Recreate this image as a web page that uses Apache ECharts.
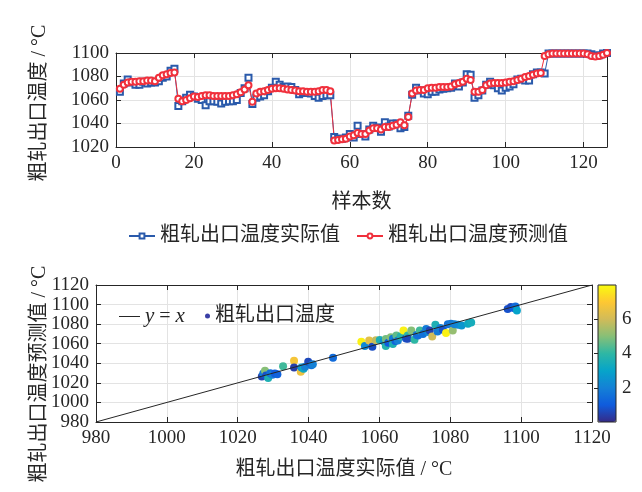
<!DOCTYPE html>
<html>
<head>
<meta charset="utf-8">
<script src="https://cdn.jsdelivr.net/npm/echarts@6/dist/echarts.min.js"></script>
<style>
html, body { margin: 0; padding: 0; background: #fff; }
#main { width: 642px; height: 492px; }
</style>
</head>
<body>
<div id="main"></div>
<script>
// 上图：样本 1..126 的实际值 / 预测值
var actualVals = [
  1067, 1074, 1077.5, 1075, 1073, 1073, 1075.5, 1074, 1075, 1075,
  1076, 1079, 1080, 1085, 1086.5, 1055, 1059, 1062, 1064.5, 1063,
  1061, 1060, 1055.5, 1059, 1059, 1058.5, 1057, 1058.5, 1059, 1059,
  1060, 1066, 1070, 1079, 1056.5, 1062, 1063, 1064, 1067.5, 1070.5,
  1075.5, 1073, 1071, 1071.5, 1071, 1068.5, 1065, 1066, 1066, 1065.5,
  1063.5, 1062, 1063.5, 1064, 1064, 1028.5, 1027, 1027, 1028, 1031,
  1028, 1038, 1031, 1029, 1035, 1038, 1036.5, 1033, 1041, 1037.5,
  1040, 1040, 1036, 1037, 1046.5, 1064.5, 1070.5, 1068, 1065.5, 1065,
  1067, 1067, 1069, 1069.5, 1070, 1070.5, 1074, 1071.5, 1075, 1082,
  1081.5, 1062, 1064, 1068, 1073, 1075.5, 1072.5, 1070, 1068, 1070.5,
  1071.5, 1073.5, 1077.5, 1078, 1076.5, 1076.5, 1082, 1083.5, 1083.5, 1082.5,
  1099.5, 1099.5, 1099.5, 1099.5, 1099.5, 1099.5, 1099.5, 1099.5, 1099.5, 1099.5,
  1099.5, 1099, 1097.5, 1098, 1099.5, 1100
]
var predVals = [
  1069.5, 1073, 1075, 1075.5, 1075.5, 1076, 1076, 1076.5, 1076.5, 1076,
  1079, 1081, 1082, 1083, 1083.5, 1061, 1059, 1060, 1061.5, 1063,
  1062.5, 1063.5, 1064, 1064, 1063.5, 1063.5, 1063.5, 1063.5, 1063.5, 1064,
  1065, 1066.5, 1069, 1072.5, 1058.5, 1065.5, 1067, 1067.5, 1068.5, 1069.5,
  1070, 1070, 1069.5, 1069, 1068.5, 1068, 1067.5, 1067.5, 1067, 1067,
  1067, 1067.5, 1068.5, 1068.5, 1067.5, 1025.5, 1026, 1026.5, 1027, 1029,
  1030, 1032, 1031, 1031, 1034, 1036, 1036, 1035, 1037, 1037,
  1038, 1039, 1041, 1038.5, 1045.5, 1065.5, 1068, 1068.5, 1068.5, 1070,
  1070.5, 1070.5, 1071, 1071, 1071, 1071.5, 1073.5, 1074.5, 1075.5, 1078,
  1077, 1067, 1067, 1068.5, 1072.5, 1074, 1074.5, 1074.5, 1074.5, 1075,
  1075.5, 1076, 1077, 1078, 1079.5, 1080.5, 1081.5, 1082.5, 1083, 1097.5,
  1099, 1099.5, 1099.5, 1099.5, 1099.5, 1099.5, 1099.5, 1099.5, 1099.5, 1099.5,
  1099, 1097.5, 1097, 1097.5, 1098.5, 1100
]

// 下图：散点（实际值, 预测值, 误差颜色）
var scatActual = [
  1026.8, 1027.2, 1027.7, 1028.0, 1028.6, 1029.2, 1029.8, 1030.5, 1031.2, 1032.8,
  1035.9, 1035.9, 1037.8, 1038.0, 1038.6, 1039.0, 1039.9, 1040.8, 1041.2, 1046.9,
  1054.9, 1055.9, 1057.1, 1058.0, 1059.0, 1060.1, 1061.2, 1061.8, 1061.8, 1062.5,
  1063.2, 1063.8, 1063.8, 1064.5, 1064.8, 1065.2, 1066.0, 1066.8, 1067.5, 1068.0,
  1068.0, 1069.0, 1069.9, 1070.5, 1070.9, 1071.4, 1072.3, 1073.2, 1073.8, 1074.2,
  1074.9, 1075.8, 1076.4, 1077.2, 1077.9, 1078.8, 1079.3, 1080.2, 1080.7, 1081.2,
  1082.2, 1083.2, 1085.0, 1085.9, 1096.2, 1097.1, 1097.8, 1098.4, 1098.8
]
var scatPred = [
  1026.5, 1029.5, 1032.5, 1027.5, 1025.0, 1029.8, 1028.3, 1029.5, 1028.8, 1037.0,
  1042.6, 1035.8, 1031.3, 1035.8, 1034.5, 1036.5, 1041.5, 1038.0, 1039.0, 1045.6,
  1062.0, 1057.6, 1063.2, 1056.9, 1063.6, 1063.8, 1062.5, 1064.8, 1057.6, 1061.0,
  1066.7, 1065.0, 1059.7, 1062.8, 1068.4, 1063.3, 1067.5, 1073.6, 1065.3, 1068.4,
  1065.0, 1073.6, 1064.0, 1069.0, 1068.4, 1073.6, 1070.0, 1075.0, 1072.0, 1073.6,
  1067.4, 1079.4, 1072.4, 1076.0, 1074.2, 1071.0, 1079.8, 1080.5, 1073.6, 1080.0,
  1079.4, 1078.5, 1080.5, 1081.6, 1095.6, 1097.5, 1096.5, 1098.1, 1094.0
]
var scatErr = [
  0.5, 1.8, 5.0, 0.8, 3.6, 1.5, 2.0, 1.0, 1.2, 4.2,
  6.8, 0.4, 6.6, 2.6, 3.2, 2.0, 0.6, 1.6, 2.0, 1.4,
  7.8, 2.2, 6.4, 0.7, 5.8, 3.6, 2.5, 4.8, 3.8, 1.0,
  5.0, 1.8, 3.6, 1.2, 4.6, 2.0, 3.8, 7.8, 0.8, 4.0,
  0.6, 5.0, 4.0, 1.8, 1.5, 4.2, 1.6, 1.8, 2.2, 0.5,
  6.0, 3.6, 1.8, 2.0, 0.8, 7.8, 1.6, 1.8, 5.2, 2.0,
  2.2, 2.6, 3.2, 3.4, 0.8, 0.6, 1.0, 1.4, 3.0
]

// 刻度
var topXTicks = [0, 20, 40, 60, 80, 100, 120]
var topYTicks = [1020, 1040, 1060, 1080, 1100]
var botTicks = [980, 1000, 1020, 1040, 1060, 1080, 1100, 1120]
var cbTicks = [2, 4, 6]

var parula = ['#352A87', '#0F5CDD', '#1481D6', '#06A4CA', '#2EB7A4', '#87BF77', '#D1BB59', '#FEC832', '#F9FB0E']

var txt = '#262626'
var numFont = 'Liberation Serif'
var cjkFont = "'Liberation Serif', 'Noto Sans CJK SC'"

function plain(v) { return String(v) }

function boxAxis(grid, pos, min, max, interval, showLabel, showSplit) {
  return {
    type: 'value', gridIndex: grid, position: pos,
    min: min, max: max, interval: interval,
    axisLine: { show: true, onZero: false, lineStyle: { color: txt, width: 1 } },
    axisTick: { show: true, inside: true, length: 5, lineStyle: { color: txt } },
    axisLabel: { show: showLabel, formatter: plain, color: txt, fontFamily: numFont, fontSize: 19, margin: 7 },
    splitLine: { show: showSplit, lineStyle: { color: '#e3e3e3', width: 1 } }
  }
}

var myChart = echarts.init(document.getElementById('main'))

var option = {
  animation: false,
  backgroundColor: '#fff',
  grid: [
    { left: 116, top: 53, width: 491, height: 94 },
    { left: 96, top: 285, width: 496, height: 137 },
    { left: 598, top: 285, width: 18, height: 137 }
  ],
  xAxis: [
    Object.assign(boxAxis(0, 'bottom', topXTicks[0], 126, topXTicks[1] - topXTicks[0], true, true), {
      name: '样本数', nameLocation: 'middle', nameGap: 46,
      nameTextStyle: { fontFamily: cjkFont, fontSize: 20, color: txt }
    }),
    boxAxis(0, 'top', topXTicks[0], 126, topXTicks[1] - topXTicks[0], false, false),
    Object.assign(boxAxis(1, 'bottom', botTicks[0], botTicks[botTicks.length - 1], botTicks[1] - botTicks[0], true, true), {
      name: '粗轧出口温度实际值 / °C', nameLocation: 'middle', nameGap: 38,
      nameTextStyle: { fontFamily: cjkFont, fontSize: 20, color: txt }
    }),
    boxAxis(1, 'top', botTicks[0], botTicks[botTicks.length - 1], botTicks[1] - botTicks[0], false, false),
    { type: 'value', gridIndex: 2, min: 0, max: 1, show: false }
  ],
  yAxis: [
    boxAxis(0, 'left', topYTicks[0], topYTicks[topYTicks.length - 1], topYTicks[1] - topYTicks[0], true, true),
    boxAxis(0, 'right', topYTicks[0], topYTicks[topYTicks.length - 1], topYTicks[1] - topYTicks[0], false, false),
    boxAxis(1, 'left', botTicks[0], botTicks[botTicks.length - 1], botTicks[1] - botTicks[0], true, true),
    boxAxis(1, 'right', botTicks[0], botTicks[botTicks.length - 1], botTicks[1] - botTicks[0], false, false),
    {
      type: 'value', gridIndex: 2, position: 'right', min: 0, max: 8,
      axisLine: { show: false },
      axisTick: { show: true, inside: true, length: 4, customValues: cbTicks, lineStyle: { color: txt } },
      axisLabel: { show: true, customValues: cbTicks, formatter: plain, color: txt, fontFamily: numFont, fontSize: 19, margin: 6 },
      splitLine: { show: false }
    }
  ],
  legend: [
    {
      data: ['粗轧出口温度实际值', '粗轧出口温度预测值'],
      left: 128, top: 226, itemWidth: 26, itemHeight: 6, itemGap: 16, padding: 0,
      textStyle: { fontFamily: cjkFont, fontSize: 20, color: txt }
    },
    {
      data: [{ name: 'y=x', icon: 'rect' }], left: 119, top: 306, itemWidth: 21, itemHeight: 1, padding: 0,
      formatter: function () { return '{i|y} = {i|x}' },
      textStyle: {
        fontFamily: numFont, fontSize: 20, color: txt,
        rich: { i: { fontStyle: 'italic', fontFamily: numFont, fontSize: 21, color: txt } }
      }
    },
    {
      data: [{ name: '粗轧出口温度', icon: 'circle' }], left: 205, top: 306,
      itemWidth: 5, itemHeight: 5, padding: 0,
      textStyle: { fontFamily: cjkFont, fontSize: 20, color: txt }
    }
  ],
  visualMap: {
    type: 'continuous', seriesIndex: 3, dimension: 2,
    min: 0, max: 8, left: 598, top: 285, itemWidth: 18, itemHeight: 137,
    padding: 0, calculable: false, hoverLink: false,
    inRange: { color: parula }
  },
  graphic: [
    {
      type: 'text', x: 40, y: 103, rotation: Math.PI / 2,
      style: { text: '粗轧出口温度 / °C', font: '20px ' + cjkFont, fill: txt, align: 'center', verticalAlign: 'middle' }
    },
    {
      type: 'text', x: 40, y: 374, rotation: Math.PI / 2,
      style: { text: '粗轧出口温度预测值 / °C', font: '20px ' + cjkFont, fill: txt, align: 'center', verticalAlign: 'middle' }
    },
    {
      type: 'rect', shape: { x: 598, y: 285, width: 18, height: 137 }, z: 100,
      style: { fill: 'none', stroke: txt, lineWidth: 1 }
    }
  ],
  series: [
    {
      name: '粗轧出口温度实际值', type: 'line', xAxisIndex: 0, yAxisIndex: 0,
      data: actualVals.map(function (v, i) { return [i + 1, v] }),
      symbol: 'emptyRect', symbolSize: 6, showAllSymbol: true,
      lineStyle: { color: '#2a5aab', width: 1 },
      itemStyle: { color: '#2a5aab', borderWidth: 1 }
    },
    {
      name: '粗轧出口温度预测值', type: 'line', xAxisIndex: 0, yAxisIndex: 0,
      data: predVals.map(function (v, i) { return [i + 1, v] }),
      symbol: 'emptyCircle', symbolSize: 6, showAllSymbol: true,
      lineStyle: { color: '#f0303c', width: 1 },
      itemStyle: { color: '#f0303c', borderWidth: 1 }
    },
    {
      name: 'y=x', type: 'line', xAxisIndex: 2, yAxisIndex: 2,
      data: [[botTicks[0], botTicks[0]], [botTicks[botTicks.length - 1], botTicks[botTicks.length - 1]]],
      symbol: 'none', silent: true,
      lineStyle: { color: txt, width: 1 },
      itemStyle: { color: txt }
    },
    {
      name: '粗轧出口温度', type: 'scatter', xAxisIndex: 2, yAxisIndex: 2,
      data: scatActual.map(function (v, i) { return [v, scatPred[i], scatErr[i]] }),
      symbolSize: 8,
      itemStyle: { color: '#3a3fa6', opacity: 1 }
    }
  ]
}

myChart.setOption(option)
</script>
</body>
</html>
